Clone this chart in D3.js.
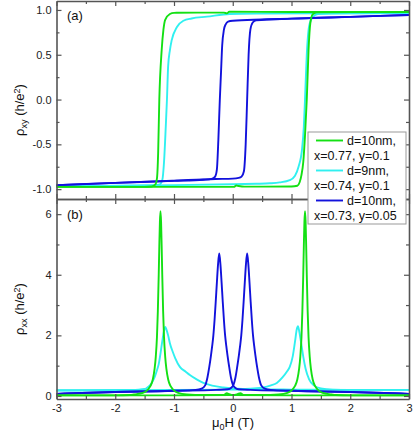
<!DOCTYPE html>
<html>
<head>
<meta charset="utf-8">
<script src="https://cdn.jsdelivr.net/npm/d3@7"></script>
<style>
  body { margin: 0; background: #fff; }
  svg { font-family: Arial, "Liberation Sans", sans-serif; }
  .axis path, .axis line { stroke: #555; }
  .axis path { stroke-width: 1.6px; }
  .axis line { stroke-width: 1.2px; }
  .axis text { font-size: 11px; fill: #222; }
</style>
</head>
<body>
<svg id="chart" width="415" height="434"></svg>
<script>
// tick values
const hTicks = [-3, -2, -1, 0, 1, 2, 3];
const hMinor = [-2.5, -1.5, -0.5, 0.5, 1.5, 2.5];
const xyTicks = [-1, -0.5, 0, 0.5, 1];
const xyMinor = [-0.75, -0.25, 0.25, 0.75];
const xxTicks = [0, 2, 4, 6];
const xxMinor = [1, 3, 5];

// legend
const sampleNames = ["d=10nm,", "d=9nm,", "d=10nm,"];
const sampleParams = ["x=0.77, y=0.1", "x=0.74, y=0.1", "x=0.73, y=0.05"];

// (a) rho_xy [H, value], down sweep and up sweep
const greenXyDown = [[-3,-0.975],[-2,-0.975],[-1.5,-0.975],[-1.38,-0.97],[-1.32,-0.95],[-1.29,-0.88],[-1.27,-0.6],[-1.25,0],[-1.21,0.55],[-1.18,0.78],[-1.15,0.89],[-1.07,0.955],[-1.0,0.968],[-0.6,0.97],[-0.15,0.97],[-0.1,0.962],[-0.06,0.98],[0,0.98],[1,0.978],[2,0.978],[3,0.978]];
const greenXyUp = [[-3,-0.975],[-2,-0.975],[-1,-0.975],[0.02,-0.975],[0.06,-0.96],[0.1,-0.965],[0.2,-0.972],[1,-0.97],[1.1,-0.962],[1.14,-0.92],[1.17,-0.84],[1.2,-0.7],[1.23,-0.4],[1.26,0],[1.29,0.55],[1.32,0.85],[1.36,0.95],[1.43,0.975],[2,0.978],[3,0.978]];
const cyanXyDown = [[-3,-0.965],[-2,-0.965],[-1.4,-0.96],[-1.25,-0.95],[-1.2,-0.9],[-1.17,-0.7],[-1.14,-0.3],[-1.12,0],[-1.1,0.37],[-1.07,0.55],[-1.04,0.66],[-0.95,0.81],[-0.84,0.88],[-0.7,0.905],[-0.44,0.925],[-0.05,0.955],[0.5,0.96],[1.5,0.963],[3,0.965]];
const cyanXyUp = [[-3,-0.965],[-1,-0.955],[0,-0.945],[0.4,-0.94],[0.63,-0.935],[0.8,-0.925],[0.97,-0.9],[1.06,-0.85],[1.12,-0.75],[1.18,-0.55],[1.21,-0.3],[1.23,0],[1.26,0.5],[1.3,0.82],[1.36,0.92],[1.45,0.955],[2,0.962],[3,0.965]];
const blueXyDown = [[-3,-0.955],[-2,-0.93],[-1,-0.908],[-0.5,-0.895],[-0.36,-0.885],[-0.3,-0.86],[-0.27,-0.78],[-0.245,-0.45],[-0.22,0],[-0.2,0.3],[-0.18,0.6],[-0.15,0.78],[-0.12,0.84],[-0.08,0.87],[0,0.88],[0.5,0.893],[1,0.903],[2,0.923],[3,0.944]];
const blueXyUp = [[-3,-0.955],[-2,-0.93],[-1,-0.905],[-0.3,-0.887],[0,-0.883],[0.1,-0.875],[0.15,-0.86],[0.19,-0.8],[0.22,-0.5],[0.245,0],[0.27,0.5],[0.3,0.78],[0.34,0.86],[0.4,0.885],[1,0.903],[2,0.923],[3,0.944]];

// (b) rho_xx [H, value]
const greenXxDown = [[-3,0.02],[-2,0.02],[-1.75,0.03],[-1.68,0.05],[-1.53,0.1],[-1.45,0.2],[-1.4,0.33],[-1.36,0.55],[-1.33,0.9],[-1.31,1.3],[-1.29,1.95],[-1.275,2.8],[-1.26,4.0],[-1.25,4.95],[-1.24,5.75],[-1.23,6.1],[-1.22,5.75],[-1.21,4.95],[-1.2,4.0],[-1.185,2.8],[-1.17,1.95],[-1.15,1.3],[-1.13,0.9],[-1.1,0.55],[-1.06,0.33],[-1.01,0.2],[-0.93,0.1],[-0.78,0.05],[-0.5,0.03],[-0.16,0.03],[-0.1,0.09],[-0.06,0.06],[0,0.03],[1,0.02],[2,0.02],[3,0.02]];
const greenXxUp = [[-3,0.02],[-2,0.02],[-1,0.02],[0,0.03],[0.08,0.06],[0.13,0.09],[0.19,0.03],[0.5,0.03],[0.78,0.05],[0.93,0.1],[1.01,0.2],[1.06,0.33],[1.1,0.55],[1.13,0.9],[1.15,1.3],[1.17,1.95],[1.185,2.8],[1.2,4.0],[1.21,4.95],[1.22,5.75],[1.23,6.1],[1.24,5.75],[1.25,4.95],[1.26,4.0],[1.275,2.8],[1.29,1.95],[1.31,1.3],[1.33,0.9],[1.36,0.55],[1.4,0.33],[1.45,0.2],[1.53,0.1],[1.68,0.05],[1.75,0.03],[2,0.02],[3,0.02]];
const cyanXxDown = [[-3,0.18],[-2.2,0.19],[-1.8,0.2],[-1.6,0.21],[-1.5,0.23],[-1.46,0.27],[-1.42,0.33],[-1.38,0.43],[-1.33,0.62],[-1.29,0.85],[-1.26,1.05],[-1.23,1.4],[-1.2,1.8],[-1.17,2.15],[-1.15,2.28],[-1.13,2.2],[-1.1,2.0],[-1.07,1.74],[-1.02,1.45],[-0.98,1.25],[-0.9,0.96],[-0.8,0.8],[-0.73,0.69],[-0.6,0.53],[-0.5,0.43],[-0.35,0.34],[-0.16,0.28],[0,0.25],[0.5,0.22],[1,0.21],[2,0.2],[3,0.2]];
const cyanXxUp = [[-3,0.19],[-1,0.2],[0,0.21],[0.3,0.24],[0.52,0.28],[0.65,0.35],[0.75,0.43],[0.85,0.62],[0.92,0.8],[0.97,0.96],[1.02,1.3],[1.06,1.8],[1.09,2.2],[1.11,2.3],[1.13,2.15],[1.16,1.8],[1.2,1.3],[1.24,0.9],[1.3,0.55],[1.38,0.35],[1.5,0.25],[1.7,0.21],[2,0.2],[3,0.2]];
const blueXxDown = [[-3,0.07],[-2,0.13],[-1,0.17],[-0.63,0.2],[-0.53,0.24],[-0.47,0.35],[-0.43,0.62],[-0.4,0.95],[-0.37,1.35],[-0.35,1.65],[-0.33,2.0],[-0.31,2.5],[-0.29,3.1],[-0.27,3.75],[-0.25,4.35],[-0.23,4.7],[-0.21,4.35],[-0.19,3.75],[-0.17,3.1],[-0.15,2.5],[-0.13,2.0],[-0.11,1.65],[-0.09,1.35],[-0.06,0.95],[-0.03,0.6],[0,0.38],[0.04,0.27],[0.1,0.22],[0.3,0.2],[1,0.17],[2,0.13],[3,0.07]];
const blueXxUp = [[-3,0.07],[-2,0.13],[-1,0.17],[-0.285,0.2],[-0.085,0.22],[-0.025,0.27],[0.015,0.38],[0.045,0.6],[0.075,0.95],[0.105,1.35],[0.125,1.65],[0.145,2.0],[0.165,2.5],[0.185,3.1],[0.205,3.75],[0.225,4.35],[0.245,4.7],[0.265,4.35],[0.285,3.75],[0.305,3.1],[0.325,2.5],[0.345,2.0],[0.365,1.65],[0.385,1.35],[0.415,0.95],[0.445,0.62],[0.485,0.35],[0.545,0.24],[0.645,0.2],[1,0.17],[2,0.13],[3,0.07]];

const colors = { green: "#14e014", cyan: "#30f0f0", blue: "#1212dc" };

let chart = d3.select("#chart");

// layout
let left = 56.5, right = 409;
let aTop = 1, mid = 199, bBottom = 399;

let x = d3.scaleLinear().domain([-3, 3]).range([left, right]);
let ya = d3.scaleLinear().domain([-1.11, 1.1]).range([mid, aTop]);
let yb = d3.scaleLinear().domain([-0.1, 6.5]).range([bBottom, mid]);

function drawLines(g, y, sets) {
    let line = d3.line()
        .x(function(d) { return x(d[0]); })
        .y(function(d) { return y(d[1]); })
        .curve(d3.curveMonotoneX);
    sets.forEach(function(s) {
        g.append("path")
            .attr("d", line(s.data))
            .attr("fill", "none")
            .attr("stroke", s.color)
            .attr("stroke-width", 1.9)
            .attr("stroke-linejoin", "round");
    });
}

// curves
drawLines(chart.append("g"), ya, [
    { data: cyanXyDown, color: colors.cyan },
    { data: cyanXyUp, color: colors.cyan },
    { data: blueXyDown, color: colors.blue },
    { data: blueXyUp, color: colors.blue },
    { data: greenXyDown, color: colors.green },
    { data: greenXyUp, color: colors.green }
]);
drawLines(chart.append("g"), yb, [
    { data: cyanXxDown, color: colors.cyan },
    { data: cyanXxUp, color: colors.cyan },
    { data: blueXxDown, color: colors.blue },
    { data: blueXxUp, color: colors.blue },
    { data: greenXxDown, color: colors.green },
    { data: greenXxUp, color: colors.green }
]);

// axes, ticks pointing inward on all sides
function addAxis(axisFn, scale, major, minor, transform, labels, fmt) {
    let g = chart.append("g").attr("class", "axis").attr("transform", transform);
    g.call(axisFn(scale).tickValues(minor).tickSizeInner(-3).tickSizeOuter(0).tickFormat(""));
    g.selectAll(".domain").remove();
    let g2 = chart.append("g").attr("class", "axis").attr("transform", transform);
    g2.call(axisFn(scale).tickValues(major).tickSizeInner(-5).tickSizeOuter(0).tickPadding(5)
        .tickFormat(labels ? fmt : ""));
    return g2;
}

let fmtXy = function(d) { return d.toFixed(1); };
let fmtInt = function(d) { return String(d); };

addAxis(d3.axisLeft, ya, xyTicks, xyMinor, "translate(" + left + ",0)", true, fmtXy);
addAxis(d3.axisRight, ya, xyTicks, xyMinor, "translate(" + right + ",0)", false);
addAxis(d3.axisTop, x, hTicks, hMinor, "translate(0," + aTop + ")", false);
addAxis(d3.axisBottom, x, hTicks, hMinor, "translate(0," + mid + ")", false);

addAxis(d3.axisLeft, yb, xxTicks, xxMinor, "translate(" + left + ",0)", true, fmtInt);
addAxis(d3.axisRight, yb, xxTicks, xxMinor, "translate(" + right + ",0)", false);
addAxis(d3.axisTop, x, hTicks, hMinor, "translate(0," + mid + ")", false);
addAxis(d3.axisBottom, x, hTicks, hMinor, "translate(0," + bBottom + ")", true, fmtInt);

// panel labels
chart.append("text").text("(a)").attr("x", 67).attr("y", 20)
    .style("font-size", "13px").style("fill", "#111");
chart.append("text").text("(b)").attr("x", 67).attr("y", 219)
    .style("font-size", "13px").style("fill", "#111");

// axis titles
function yTitle(sub, cy) {
    let t = chart.append("text")
        .attr("transform", "translate(24," + cy + ") rotate(-90)")
        .attr("text-anchor", "middle")
        .style("font-size", "13px")
        .style("fill", "#111");
    t.append("tspan").text("\u03c1");
    t.append("tspan").text(sub).attr("baseline-shift", "-30%").style("font-size", "9px");
    t.append("tspan").text(" (h/e");
    t.append("tspan").text("2").attr("baseline-shift", "45%").style("font-size", "9px");
    t.append("tspan").text(")");
}
yTitle("xy", 110);
yTitle("xx", 309);

let xt = chart.append("text")
    .attr("x", 233).attr("y", 427)
    .attr("text-anchor", "middle")
    .style("font-size", "13px")
    .style("fill", "#111");
xt.append("tspan").text("\u03bc");
xt.append("tspan").text("0").attr("baseline-shift", "-30%").style("font-size", "9px");
xt.append("tspan").text("H (T)");

// legend
let legendColors = [colors.green, colors.cyan, colors.blue];
let lg = chart.append("g");
lg.append("rect")
    .attr("x", 308).attr("y", 132).attr("width", 98).attr("height", 92)
    .attr("fill", "#fff").attr("stroke", "#999").attr("stroke-width", 1);

lg.selectAll("legendlines")
    .data(sampleNames)
    .enter()
    .append("line")
    .attr("x1", 316).attr("x2", 343)
    .attr("y1", function(d, i) { return 140.5 + i * 30; })
    .attr("y2", function(d, i) { return 140.5 + i * 30; })
    .attr("stroke", function(d, i) { return legendColors[i]; })
    .attr("stroke-width", 1.9);

lg.selectAll("legendnames")
    .data(sampleNames)
    .enter()
    .append("text")
    .attr("x", 347)
    .attr("y", function(d, i) { return 140.5 + i * 30; })
    .attr("dy", "0.35em")
    .style("font-size", "12.5px")
    .style("fill", "#111")
    .text(function(d) { return d; });

lg.selectAll("legendparams")
    .data(sampleParams)
    .enter()
    .append("text")
    .attr("x", 314)
    .attr("y", function(d, i) { return 155.5 + i * 30; })
    .attr("dy", "0.35em")
    .style("font-size", "12.5px")
    .style("fill", "#111")
    .text(function(d) { return d; });
</script>
</body>
</html>
